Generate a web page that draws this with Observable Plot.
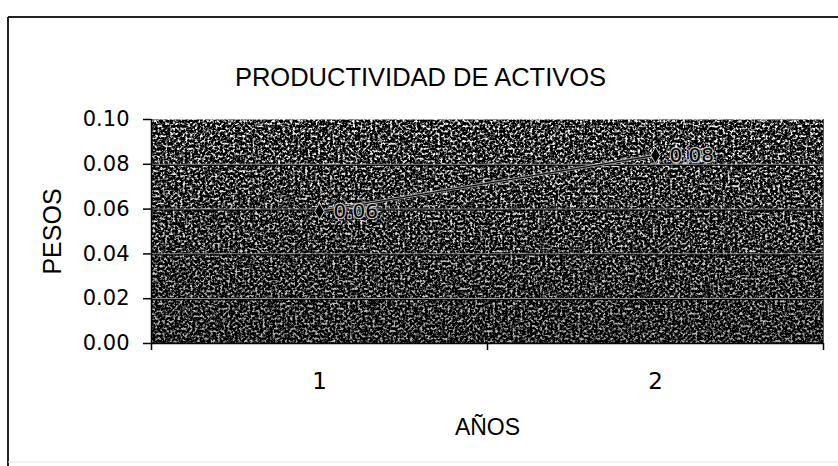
<!DOCTYPE html>
<html>
<head>
<meta charset="utf-8">
<script src="https://cdn.jsdelivr.net/npm/d3@7"></script>
<script src="https://cdn.jsdelivr.net/npm/@observablehq/plot@0.6"></script>
<style>
  html, body { margin: 0; padding: 0; background: #fff; }
  #chart { width: 838px; height: 466px; }
</style>
</head>
<body>
<div id="chart"></div>
<script>
// Asset productivity per year (pesos)
const years = [1, 2];
const values = [0.059, 0.084];
const yTicks = [0, 0.02, 0.04, 0.06, 0.08, 0.10];
const gridTicks = [0.02, 0.04, 0.06, 0.08];
const yearBounds = [0.5, 1.5, 2.5];
const titleText = "PRODUCTIVIDAD DE ACTIVOS";
const xLabel = "AÑOS";
const yLabel = "PESOS";

const data = years.map((year, i) => ({year, value: values[i]}));
const fmt = d3.format(".2f");
const sans = "'Liberation Sans', Arial, sans-serif";
const wide = "'DejaVu Sans', sans-serif";

const svg = Plot.plot({
  width: 838,
  height: 466,
  marginLeft: 151,
  marginRight: 15,
  marginTop: 119,
  marginBottom: 123,
  style: {fontFamily: sans, background: "transparent", color: "#000"},
  x: {domain: [0.5, 2.5], axis: null},
  y: {domain: [0, 0.1], axis: null},
  marks: [
    // grainy plot-area background
    Plot.frame({fill: "#333"}),
    Plot.frame({fill: "url(#shade)"}),
    // gridlines
    Plot.ruleY(gridTicks, {stroke: "#a0a0a0", strokeWidth: 1}),
    Plot.ruleY(gridTicks, {stroke: "#000", strokeWidth: 1, dy: 1}),
    // axis lines
    Plot.ruleX([2.5], {stroke: "#555"}),
    Plot.ruleY([0], {stroke: "#000", strokeWidth: 1.5}),
    Plot.ruleX([0.5], {stroke: "#000", strokeWidth: 1.5}),
    // y axis
    Plot.axisY({
      ticks: yTicks, tickFormat: fmt, tickSize: 8, tickPadding: 14,
      fontSize: 21, fontFamily: wide, stroke: "#000", strokeWidth: 1.5,
      label: null
    }),
    // x axis: tick marks between categories, labels at centres
    Plot.axisX({ticks: yearBounds, tickFormat: () => "", tickSize: 7, stroke: "#000", strokeWidth: 1.5, label: null}),
    Plot.text(years, {
      x: d => d, frameAnchor: "bottom", lineAnchor: "middle", dy: 38,
      text: d => String(d), fontSize: 23, fontFamily: wide, fill: "#000"
    }),
    // series: a pale halo under a thin dark line
    Plot.line(data, {x: "year", y: "value", stroke: "#b8b8b8", strokeWidth: 3, strokeOpacity: 0.8}),
    Plot.line(data, {x: "year", y: "value", stroke: "#111", strokeWidth: 1.2}),
    Plot.dot(data, {x: "year", y: "value", symbol: "diamond", r: 5, fill: "#000", stroke: "#cfcfcf", strokeWidth: 1}),
    Plot.text(data, {
      x: "year", y: "value", text: d => fmt(d.value), dx: 14, textAnchor: "start",
      fontSize: 20, fontFamily: wide, fill: "#000", stroke: "#d8d8d8", strokeWidth: 2.5, strokeOpacity: 0.85
    }),
    // titles
    Plot.text([titleText], {
      frameAnchor: "top", lineAnchor: "middle", textAnchor: "middle",
      dx: -67, dy: -42, fontSize: 25.5, fill: "#000"
    }),
    Plot.text([xLabel], {
      frameAnchor: "bottom", lineAnchor: "middle", textAnchor: "middle",
      dy: 84, fontSize: 23, fill: "#000"
    }),
    Plot.text([yLabel], {
      frameAnchor: "left", lineAnchor: "middle", textAnchor: "middle",
      dx: -99, rotate: -90, fontSize: 25, fill: "#000"
    })
  ]
});

// filter + gradient definitions for the textured background
const root = d3.select(svg);
const defs = root.insert("defs", ":first-child");
const filter = defs.append("filter")
  .attr("id", "grain")
  .attr("x", 0).attr("y", 0).attr("width", 1).attr("height", 1)
  .attr("color-interpolation-filters", "sRGB");
filter.append("feTurbulence")
  .attr("type", "fractalNoise").attr("baseFrequency", 0.4)
  .attr("numOctaves", 3).attr("seed", 11).attr("result", "noise");
filter.append("feColorMatrix")
  .attr("in", "noise").attr("type", "matrix")
  .attr("values", "3.6 0 0 0 -1.62  3.6 0 0 0 -1.62  3.6 0 0 0 -1.62  0 0 0 0 1")
  .attr("result", "gray");
filter.append("feGaussianBlur").attr("in", "gray").attr("stdDeviation", 0.5).attr("result", "soft");
filter.append("feComposite").attr("in", "soft").attr("in2", "SourceGraphic").attr("operator", "in");

const grad = defs.append("linearGradient")
  .attr("id", "shade").attr("x1", 0).attr("y1", 0).attr("x2", 0).attr("y2", 1);
grad.append("stop").attr("offset", 0).attr("stop-color", "#000").attr("stop-opacity", 0);
grad.append("stop").attr("offset", 1).attr("stop-color", "#000").attr("stop-opacity", 0.3);

const frames = svg.querySelectorAll('[aria-label="frame"]');
if (frames.length) {
  const first = frames[0].tagName.toLowerCase() === "rect" ? frames[0] : frames[0].querySelector("rect");
  if (first) first.setAttribute("filter", "url(#grain)");
}

// outer chart border
root.append("line").attr("x1", 8).attr("x2", 838).attr("y1", 17).attr("y2", 17)
  .attr("stroke", "#222").attr("stroke-width", 2);
root.append("line").attr("x1", 8).attr("x2", 8).attr("y1", 17).attr("y2", 466)
  .attr("stroke", "#222").attr("stroke-width", 2);
root.append("line").attr("x1", 8).attr("x2", 838).attr("y1", 462).attr("y2", 462)
  .attr("stroke", "#e4e4e4").attr("stroke-width", 1);

document.getElementById("chart").appendChild(svg);
</script>
</body>
</html>
